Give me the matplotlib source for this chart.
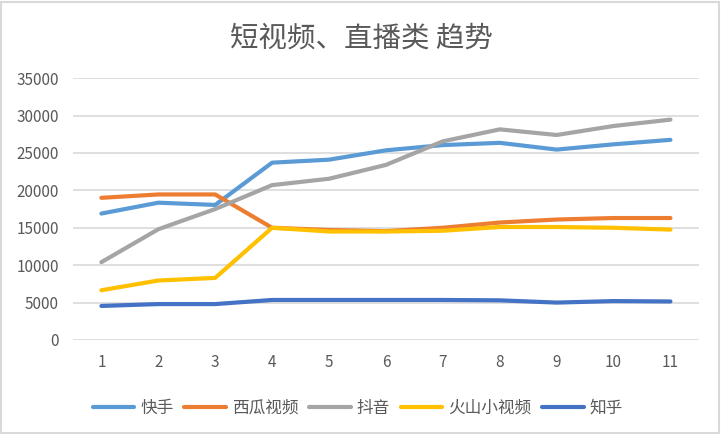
import matplotlib.pyplot as plt
from matplotlib.patches import Rectangle

plt.rcParams['font.family'] = ['Noto Sans CJK SC', 'DejaVu Sans']

# data
months = [1, 2, 3, 4, 5, 6, 7, 8, 9, 10, 11]
kuaishou = [16900, 18350, 18050, 23700, 24100, 25350, 26050, 26350, 25450, 26150, 26750]
xigua = [19000, 19450, 19450, 15000, 14700, 14550, 15000, 15700, 16100, 16300, 16300]
douyin = [10400, 14800, 17500, 20700, 21550, 23400, 26550, 28150, 27400, 28600, 29450]
huoshan = [6650, 7950, 8300, 15000, 14500, 14500, 14600, 15100, 15100, 15000, 14750]
zhihu = [4550, 4800, 4800, 5350, 5350, 5350, 5350, 5300, 5000, 5200, 5150]
y_ticks = [0, 5000, 10000, 15000, 20000, 25000, 30000, 35000]

series = [
    ('快手', kuaishou, '#5B9BD5'),
    ('西瓜视频', xigua, '#ED7D31'),
    ('抖音', douyin, '#A5A5A5'),
    ('火山小视频', huoshan, '#FFC000'),
    ('知乎', zhihu, '#4472C4'),
]

text_color = '#595959'

fig = plt.figure(figsize=(7.22, 4.34), dpi=100)
ax = fig.add_axes([0.101, 0.2166, 0.867, 0.6034])

for name, values, color in series:
    ax.plot(months, values, color=color, linewidth=3, label=name,
            solid_capstyle='round', solid_joinstyle='round')

ax.set_xlim(0.5, 11.5)
ax.set_ylim(0, 35000)
ax.set_xticks(months)
ax.set_yticks(y_ticks)
ax.tick_params(axis='both', length=0, labelsize=11, labelcolor=text_color)
ax.tick_params(axis='x', pad=10)
ax.tick_params(axis='y', pad=10)
ax.grid(axis='y', color='#D9D9D9', linewidth=1.2)
ax.set_axisbelow(True)
for side in ax.spines.values():
    side.set_visible(False)

fig.text(0.5, 0.912, '短视频、直播类 趋势', ha='center', va='center',
         fontsize=20.5, color=text_color)

ax.legend(loc='upper center', bbox_to_anchor=(0.455, -0.17), ncol=5,
          frameon=False, fontsize=12, labelcolor=text_color,
          handlelength=2.5, handletextpad=0.35, columnspacing=0.65)

# light chart border
fig.patches.append(Rectangle((0.002, 0.003), 0.994, 0.993, transform=fig.transFigure,
                             fill=False, edgecolor='#D9D9D9', linewidth=1.5))

fig.savefig('out.png', dpi=100)
